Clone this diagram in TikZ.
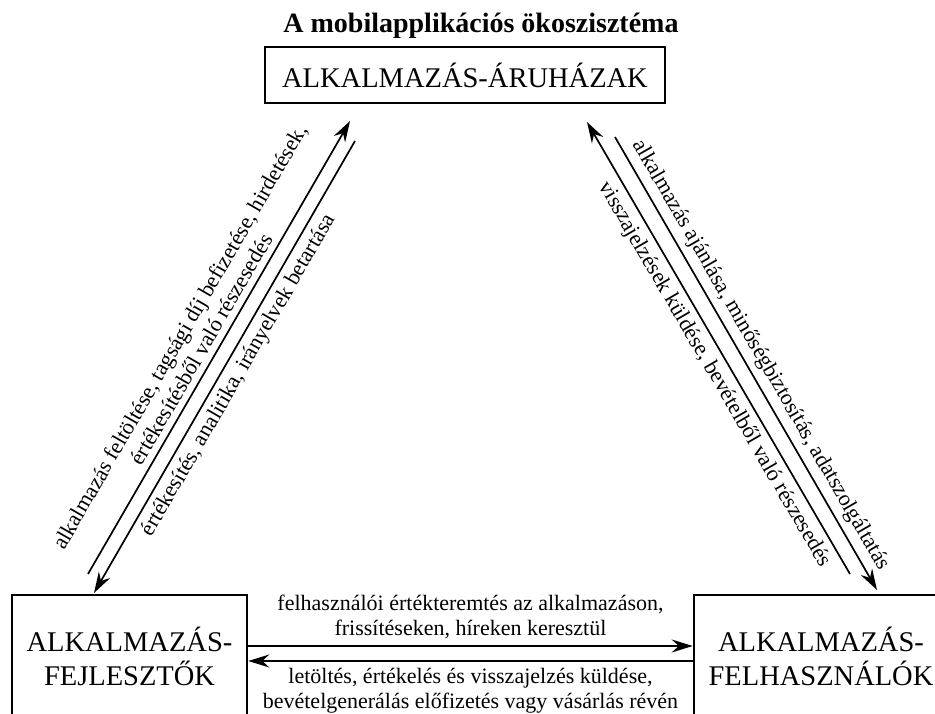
\documentclass[tikz,border=0pt]{standalone}
\usepackage{fontspec}
\setmainfont{Liberation Serif}
\usetikzlibrary{arrows.meta}

\begin{document}
\begin{tikzpicture}[x=1pt, y=-1pt]
\tikzset{
	appbox/.style={draw,
		line width=2.6pt,
		align=center,
		inner sep=0pt,
		font=\fontsize{28.5}{34}\selectfont % box titles
	},
	flow/.style={line width=1.7pt,
		-{Stealth[length=21pt, width=13pt, inset=7pt]}
	},
	flowtext/.style={font=\fontsize{22}{25}\selectfont,
		align=center,
		inner sep=6pt
}}

\useasboundingbox (0,0) rectangle (935,714);
\clip (0,0) rectangle (935,714);

\node[font=\bfseries\fontsize{28}{32}\selectfont, anchor=base] (title) at (481,33) {A mobilapplikációs ökoszisztéma};
\node[appbox, minimum width=400pt, minimum height=56pt] (store) at (465,75) {ALKALMAZÁS-ÁRUHÁZAK};
\node[appbox, minimum width=235pt, minimum height=122pt] (dev) at (129.5,656) {ALKALMAZÁS-\\FEJLESZTŐK};
\node[appbox, minimum width=254pt, minimum height=122pt] (user) at (821,656) {ALKALMAZÁS-\\FELHASZNÁLÓK};

% ends of the slanted arrows
\coordinate (devOut) at (88,574);
\coordinate (devIn) at (94,593);
\coordinate (storeInL) at (350,121);
\coordinate (storeOutL) at (355,141);
\coordinate (storeInR) at (587,122);
\coordinate (storeOutR) at (615,137);
\coordinate (userOut) at (850,574);
\coordinate (userIn) at (877,590);

{\draw[flow] (devOut) -- (storeInL) node[flowtext, sloped, above, pos=0.48] {alkalmazás feltöltése, tagsági díj befizetése, hirdetések,\\értékesítésből való részesedés};}
{\draw[flow] (storeOutL) -- (devIn) node[flowtext, sloped, below, pos=0.5] {értékesítés, analitika, irányelvek betartása};}
{\draw[flow] (userOut) -- (storeInR) node[flowtext, sloped, below, pos=0.46] {visszajelzések küldése, bevételből való részesedés};}
{\draw[flow] (storeOutR) -- (userIn) node[flowtext, sloped, above, pos=0.5] {alkalmazás ajánlása, minőségbiztosítás, adatszolgáltatás};}

{\draw[flow] ([yshift=10pt]dev.east) -- ([yshift=10pt]user.west) node[flowtext, midway, above] {felhasználói értékteremtés az alkalmazáson,\\frissítéseken, híreken keresztül};}
{\draw[flow] ([yshift=-5pt]user.west) -- ([yshift=-5pt]dev.east) node[flowtext, midway, below] {letöltés, értékelés és visszajelzés küldése,\\bevételgenerálás előfizetés vagy vásárlás révén};}
\end{tikzpicture}
\end{document}
